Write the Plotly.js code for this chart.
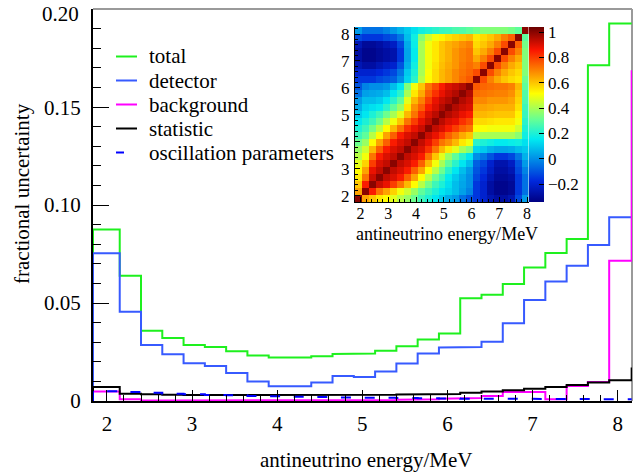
<!DOCTYPE html>
<html><head><meta charset="utf-8">
<script src="https://cdn.plot.ly/plotly-3.0.1.min.js"></script>
<style>html,body{margin:0;padding:0;background:#fff}#chart{width:641px;height:475px}</style>
</head><body><div id="chart"></div>
<script>
// ---- data ----
const binEdges = [1.836, 2.15, 2.40, 2.65, 2.90, 3.15, 3.40, 3.65, 3.90, 4.15, 4.40, 4.65, 4.90, 5.15, 5.40, 5.65, 5.90, 6.15, 6.40, 6.65, 6.90, 7.15, 7.40, 7.65, 7.90, 8.164];
const seriesNames = ['total', 'detector', 'background', 'statistic', 'oscillation parameters'];
const totalVals = [0.0875, 0.0639, 0.0358, 0.0322, 0.0286, 0.0276, 0.0254, 0.0232, 0.0222, 0.0222, 0.0229, 0.0240, 0.0242, 0.0256, 0.0280, 0.0314, 0.0344, 0.0525, 0.0542, 0.0597, 0.0682, 0.0755, 0.0827, 0.1714, 0.1927];
const detectorVals = [0.0754, 0.0455, 0.0286, 0.0239, 0.0193, 0.0179, 0.0143, 0.0100, 0.0075, 0.0075, 0.0094, 0.0128, 0.0123, 0.0150, 0.0191, 0.0242, 0.0273, 0.0276, 0.0303, 0.0397, 0.0515, 0.0610, 0.0690, 0.0796, 0.0938];
const backgroundVals = [0.0048, 0.0009, 0.0003, 0.0003, 0.0003, 0.0003, 0.0003, 0.0003, 0.0003, 0.0003, 0.0003, 0.0003, 0.0004, 0.0005, 0.0007, 0.0009, 0.0012, 0.0015, 0.0026, 0.0046, 0.0046, 0.0009, 0.0077, 0.0097, 0.0716];
const backgroundOverflow = 0.1688;
const statisticVals = [0.0072, 0.0037, 0.0034, 0.0032, 0.0031, 0.0030, 0.0030, 0.0029, 0.0029, 0.0029, 0.0029, 0.0030, 0.0031, 0.0032, 0.0033, 0.0034, 0.0036, 0.0042, 0.0048, 0.0055, 0.0063, 0.0072, 0.0082, 0.0094, 0.0106];
const statisticOverflow = 0.0171;
const oscillationVals = [0.0050, 0.0046, 0.0042, 0.0037, 0.0034, 0.0031, 0.0029, 0.0026, 0.0024, 0.0022, 0.0020, 0.0018, 0.0017, 0.0016, 0.0015, 0.0014, 0.0013, 0.0012, 0.0012, 0.0011, 0.0011, 0.0010, 0.0010, 0.0009, 0.0009];

const xTickVals = [2, 3, 4, 5, 6, 7, 8];
const yTickVals = [0, 0.05, 0.10, 0.15, 0.20];
const yTickText = ['0', '0.05', '0.10', '0.15', '0.20'];
const cbTickVals = [-0.2, 0, 0.2, 0.4, 0.6, 0.8, 1];
const cbTickText = ['\u22120.2', '0', '0.2', '0.4', '0.6', '0.8', '1'];

// correlation matrix (25 x 25), rows = y bins from bottom, cols = x bins
const heatXCenters = [1.925, 2.175, 2.425, 2.675, 2.925, 3.175, 3.425, 3.675, 3.925, 4.175, 4.425, 4.675, 4.925, 5.175, 5.425, 5.675, 5.925, 6.175, 6.425, 6.675, 6.925, 7.175, 7.425, 7.675, 7.925];
const heatYCenters = [1.896, 2.156, 2.416, 2.675, 2.935, 3.195, 3.455, 3.715, 3.974, 4.234, 4.494, 4.754, 5.014, 5.273, 5.533, 5.793, 6.053, 6.313, 6.572, 6.832, 7.092, 7.352, 7.612, 7.871, 8.131];
const corrMatrix = [
[1,0.65,0.6,0.55,0.52,0.48,0.42,0.38,0.32,0.25,0.2,0.15,0.1,0.05,0.02,-0.05,-0.1,-0.15,-0.2,-0.25,-0.28,-0.28,-0.25,-0.12,0.02],
[0.65,1,0.85,0.72,0.65,0.58,0.5,0.45,0.38,0.3,0.25,0.2,0.15,0.12,0.08,0.03,-0.02,-0.15,-0.2,-0.28,-0.32,-0.32,-0.3,-0.15,-0.05],
[0.6,0.85,1,0.92,0.88,0.8,0.72,0.62,0.52,0.42,0.33,0.25,0.2,0.14,0.08,0.04,0.0,-0.15,-0.2,-0.28,-0.32,-0.32,-0.3,-0.15,-0.05],
[0.55,0.72,0.92,1,0.93,0.9,0.85,0.75,0.65,0.52,0.42,0.32,0.25,0.16,0.1,0.05,0.0,-0.12,-0.18,-0.25,-0.3,-0.3,-0.28,-0.15,-0.05],
[0.52,0.65,0.88,0.93,1,0.93,0.9,0.85,0.75,0.65,0.52,0.42,0.32,0.22,0.15,0.08,0.02,-0.1,-0.15,-0.22,-0.28,-0.28,-0.25,-0.12,-0.02],
[0.48,0.58,0.8,0.9,0.93,1,0.93,0.9,0.85,0.75,0.62,0.5,0.4,0.3,0.22,0.15,0.08,-0.08,-0.12,-0.2,-0.26,-0.26,-0.22,-0.1,0.02],
[0.42,0.5,0.72,0.85,0.9,0.93,1,0.93,0.9,0.85,0.72,0.6,0.48,0.38,0.3,0.22,0.15,0.0,-0.04,-0.1,-0.15,-0.15,-0.12,-0.04,0.06],
[0.38,0.45,0.62,0.75,0.85,0.9,0.93,1,0.93,0.9,0.82,0.72,0.62,0.55,0.48,0.4,0.35,0.12,0.1,0.06,0.04,0.04,0.05,0.08,0.1],
[0.32,0.38,0.52,0.65,0.75,0.85,0.9,0.93,1,0.93,0.88,0.8,0.72,0.68,0.62,0.55,0.5,0.22,0.2,0.18,0.16,0.16,0.17,0.18,0.14],
[0.25,0.3,0.42,0.52,0.65,0.75,0.85,0.9,0.93,1,0.92,0.88,0.82,0.75,0.7,0.64,0.6,0.42,0.4,0.4,0.4,0.4,0.4,0.36,0.18],
[0.2,0.25,0.33,0.42,0.52,0.62,0.72,0.82,0.88,0.92,1,0.93,0.9,0.85,0.8,0.75,0.72,0.52,0.51,0.5,0.5,0.5,0.5,0.45,0.2],
[0.15,0.2,0.25,0.32,0.42,0.5,0.6,0.72,0.8,0.88,0.93,1,0.94,0.9,0.88,0.82,0.78,0.57,0.57,0.56,0.55,0.55,0.55,0.5,0.22],
[0.1,0.15,0.2,0.25,0.32,0.4,0.48,0.62,0.72,0.82,0.9,0.94,1,0.95,0.92,0.88,0.85,0.62,0.62,0.61,0.6,0.6,0.6,0.53,0.24],
[0.05,0.12,0.14,0.16,0.22,0.3,0.38,0.55,0.68,0.75,0.85,0.9,0.95,1,0.95,0.92,0.9,0.65,0.65,0.64,0.63,0.63,0.63,0.56,0.25],
[0.02,0.08,0.08,0.1,0.15,0.22,0.3,0.48,0.62,0.7,0.8,0.88,0.92,0.95,1,0.95,0.92,0.69,0.69,0.67,0.67,0.67,0.65,0.58,0.27],
[-0.05,0.03,0.04,0.05,0.08,0.15,0.22,0.4,0.55,0.64,0.75,0.82,0.88,0.92,0.95,1,0.95,0.73,0.72,0.71,0.7,0.7,0.68,0.6,0.28],
[-0.1,-0.02,0.0,0.0,0.02,0.08,0.15,0.35,0.5,0.6,0.72,0.78,0.85,0.9,0.92,0.95,1,0.76,0.74,0.73,0.72,0.72,0.7,0.62,0.3],
[-0.15,-0.15,-0.15,-0.12,-0.1,-0.08,0.0,0.12,0.22,0.42,0.52,0.57,0.62,0.65,0.69,0.73,0.76,1,0.78,0.7,0.64,0.6,0.57,0.55,0.32],
[-0.2,-0.2,-0.2,-0.18,-0.15,-0.12,-0.04,0.1,0.2,0.4,0.51,0.57,0.62,0.65,0.69,0.72,0.74,0.78,1,0.78,0.7,0.64,0.6,0.57,0.35],
[-0.25,-0.28,-0.28,-0.25,-0.22,-0.2,-0.1,0.06,0.18,0.4,0.5,0.56,0.61,0.64,0.67,0.71,0.73,0.7,0.78,1,0.78,0.7,0.64,0.6,0.35],
[-0.28,-0.32,-0.32,-0.3,-0.28,-0.26,-0.15,0.04,0.16,0.4,0.5,0.55,0.6,0.63,0.67,0.7,0.72,0.64,0.7,0.78,1,0.78,0.7,0.64,0.35],
[-0.28,-0.32,-0.32,-0.3,-0.28,-0.26,-0.15,0.04,0.16,0.4,0.5,0.55,0.6,0.63,0.67,0.7,0.72,0.6,0.64,0.7,0.78,1,0.78,0.7,0.35],
[-0.25,-0.3,-0.3,-0.28,-0.25,-0.22,-0.12,0.05,0.17,0.4,0.5,0.55,0.6,0.63,0.65,0.68,0.7,0.57,0.6,0.64,0.7,0.78,1,0.75,0.33],
[-0.12,-0.15,-0.15,-0.15,-0.12,-0.1,-0.04,0.08,0.18,0.36,0.45,0.5,0.53,0.56,0.58,0.6,0.62,0.55,0.57,0.6,0.64,0.7,0.75,1,0.3],
[0.02,-0.05,-0.05,-0.05,-0.02,0.02,0.06,0.1,0.14,0.18,0.2,0.22,0.24,0.25,0.27,0.28,0.3,0.32,0.35,0.35,0.35,0.35,0.33,0.3,1]
];

// ---- helpers ----
function stepLine(edges, vals, endVal) {
  const xs = [edges[0]], ys = [0];
  for (let k = 0; k < vals.length; k++) { xs.push(edges[k], edges[k + 1]); ys.push(vals[k], vals[k]); }
  if (endVal !== undefined) { xs.push(edges[edges.length - 1]); ys.push(endVal); }
  return { x: xs, y: ys };
}
const W = 641, H = 475, ML = 93, MR = 9, MT = 9, MB = 74;
const PW = W - ML - MR, PH = H - MT - MB;
const px = v => (v - ML) / PW;
const py = v => (H - MB - v) / PH;

const FONT = 'Liberation Serif, Times New Roman, serif';
const colors = ['rgb(30,240,30)', 'rgb(55,90,255)', 'rgb(255,0,255)', 'rgb(0,0,0)', 'rgb(0,0,255)'];
const dashes = ['solid', 'solid', 'solid', 'solid', '10px,14px'];
const seriesData = [
  stepLine(binEdges, totalVals),
  stepLine(binEdges, detectorVals),
  stepLine(binEdges, backgroundVals, backgroundOverflow),
  stepLine(binEdges, statisticVals, statisticOverflow),
  stepLine(binEdges, oscillationVals)
];

const traces = seriesData.map((d, k) => ({
  type: 'scatter', mode: 'lines', x: d.x, y: d.y, name: seriesNames[k],
  line: { color: colors[k], width: 2, dash: dashes[k] }, showlegend: false,
  xaxis: 'x', yaxis: 'y', hoverinfo: 'skip'
}));

traces.push({
  type: 'heatmap', x: heatXCenters, y: heatYCenters, z: corrMatrix, xaxis: 'x2', yaxis: 'y2',
  zmin: -0.34, zmax: 1.04, zsmooth: false, hoverinfo: 'skip',
  colorscale: [[0, 'rgb(0,0,130)'], [0.12, 'rgb(0,40,220)'], [0.36, 'rgb(0,235,240)'], [0.47, 'rgb(100,255,150)'], [0.62, 'rgb(255,255,0)'], [0.87, 'rgb(250,20,0)'], [1, 'rgb(105,0,0)']],
  colorbar: {
    x: px(528.5), xanchor: 'left', xpad: 0, y: py(202), yanchor: 'bottom', ypad: 0,
    len: (202 - 27) / PH, lenmode: 'fraction', thickness: 15, outlinewidth: 0,
    ticks: 'inside', ticklen: 5, tickcolor: 'black', tickwidth: 1,
    tickvals: cbTickVals, ticktext: cbTickText, tickfont: { family: FONT, size: 17, color: 'black' }
  }
});

// legend drawn with shapes + annotations
const legendRows = [56.5, 80.5, 104.5, 128.5, 152.5];
const shapes = [
  { type: 'line', xref: 'paper', yref: 'paper', x0: 0, x1: 1, y0: 1, y1: 1, line: { color: '#9a9a9a', width: 2 }, layer: 'below' },
  { type: 'line', xref: 'paper', yref: 'paper', x0: 1, x1: 1, y0: 0, y1: 1, line: { color: '#9a9a9a', width: 2 }, layer: 'below' }
];
const annotations = [];
seriesNames.forEach((name, k) => {
  shapes.push({ type: 'line', xref: 'paper', yref: 'paper', x0: px(116), x1: px(137), y0: py(legendRows[k]), y1: py(legendRows[k]),
    line: { color: colors[k], width: 2, dash: k === 4 ? '8px,20px' : 'solid' } });
  annotations.push({ xref: 'paper', yref: 'paper', x: px(147), y: py(legendRows[k]), xanchor: 'left', yanchor: 'middle',
    text: name, showarrow: false, font: { family: FONT, size: 21, color: 'black' } });
});
annotations.push({ xref: 'paper', yref: 'paper', x: px(366), y: py(460), xanchor: 'center', yanchor: 'middle',
  text: 'antineutrino energy/MeV', showarrow: false, font: { family: FONT, size: 21, color: 'black' } });
annotations.push({ xref: 'paper', yref: 'paper', x: px(22), y: py(194), xanchor: 'center', yanchor: 'middle', textangle: -90,
  text: 'fractional uncertainty', showarrow: false, font: { family: FONT, size: 21, color: 'black' } });
annotations.push({ xref: 'paper', yref: 'paper', x: px(446.5), y: py(234), xanchor: 'center', yanchor: 'middle',
  text: 'antineutrino energy/MeV', showarrow: false, font: { family: FONT, size: 18, color: 'black' } });
// top y label sits slightly below its tick (as in the reference) so it stays inside the page
annotations.push({ xref: 'paper', yref: 'paper', x: px(81), y: py(13.5), xanchor: 'right', yanchor: 'middle',
  text: yTickText[yTickText.length - 1], showarrow: false, font: { family: FONT, size: 21, color: 'black' } });
const yAxisText = yTickText.map((t, k) => k === yTickText.length - 1 ? '' : t);

const layout = {
  width: W, height: H, margin: { l: ML, r: MR, t: MT, b: MB, pad: 0 },
  paper_bgcolor: 'white', plot_bgcolor: 'white', showlegend: false,
  font: { family: FONT, color: 'black' },
  xaxis: {
    domain: [0, 1], range: [binEdges[0], 8.168], anchor: 'y',
    showline: true, linecolor: 'black', linewidth: 2, zeroline: false, showgrid: false,
    ticks: 'inside', ticklen: 11, tickwidth: 1, tickcolor: 'black', ticklabeloverflow: 'allow',
    tickvals: xTickVals, tickfont: { family: FONT, size: 21, color: 'black' }, ticklabelstandoff: 3,
    minor: { ticks: 'inside', ticklen: 6, dtick: 0.2, tick0: 0, tickcolor: 'black', tickwidth: 1, showgrid: false }
  },
  yaxis: {
    domain: [0, 1], range: [0, 0.2001], anchor: 'x',
    showline: true, linecolor: 'black', linewidth: 2, zeroline: false, showgrid: false,
    ticks: 'inside', ticklen: 16, tickwidth: 1, tickcolor: 'black', ticklabeloverflow: 'allow',
    tickvals: yTickVals, ticktext: yAxisText, tickfont: { family: FONT, size: 21, color: 'black' }, ticklabelstandoff: 6,
    minor: { ticks: 'inside', ticklen: 8, dtick: 0.01, tick0: 0, tickcolor: 'black', tickwidth: 1, showgrid: false }
  },
  xaxis2: {
    domain: [px(355), px(528.5)], range: [1.8, 8.05], anchor: 'y2',
    showline: true, linecolor: 'black', linewidth: 1, zeroline: false, showgrid: false,
    ticks: 'inside', ticklen: 5, tickwidth: 1, tickcolor: 'black', tickvals: xTickVals,
    tickfont: { family: FONT, size: 16, color: 'black' }, ticklabelstandoff: -3,
    minor: { ticks: 'inside', ticklen: 3, dtick: 0.2, tick0: 0, tickcolor: 'black', tickwidth: 1, showgrid: false }
  },
  yaxis2: {
    domain: [py(202), py(27)], range: [1.766, 8.261], anchor: 'x2',
    showline: true, linecolor: 'black', linewidth: 1, zeroline: false, showgrid: false,
    ticks: 'inside', ticklen: 5, tickwidth: 1, tickcolor: 'black', tickvals: xTickVals,
    tickfont: { family: FONT, size: 17, color: 'black' }, ticklabelstandoff: 1,
    minor: { ticks: 'inside', ticklen: 3, dtick: 0.2, tick0: 0, tickcolor: 'black', tickwidth: 1, showgrid: false }
  },
  shapes: shapes, annotations: annotations
};

Plotly.newPlot('chart', traces, layout, { displayModeBar: false, staticPlot: true });
</script>
</body></html>
